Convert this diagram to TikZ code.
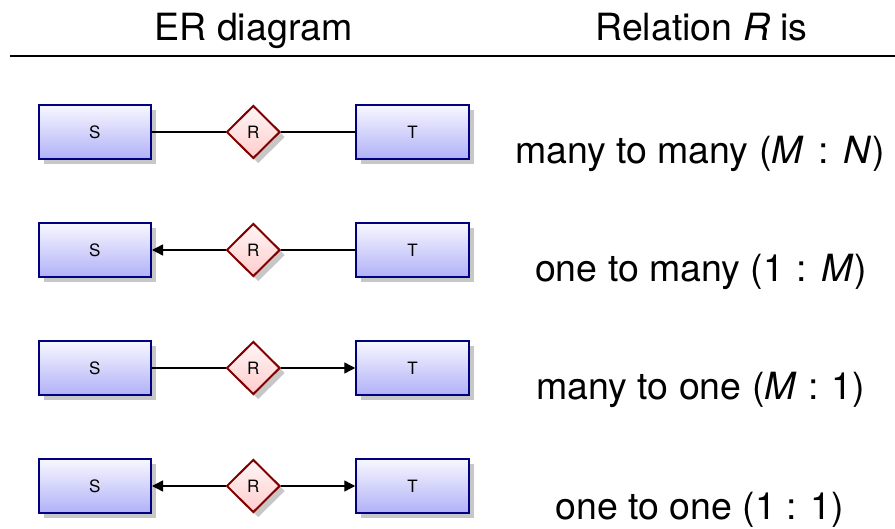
\documentclass[tikz,border=0pt]{standalone}
\usepackage{fontspec}
\setmainfont{TeX Gyre Heros}
\usetikzlibrary{shapes.geometric,shadows,arrows.meta}
\definecolor{entborder}{HTML}{000080}
\definecolor{enttop}{HTML}{F8F8FF}
\definecolor{entbot}{HTML}{B0B0F8}
\definecolor{relborder}{HTML}{800000}
\definecolor{reltop}{HTML}{FFF6F6}
\definecolor{relbot}{HTML}{FFCCCC}
\newcommand{\gapcolon}[1]{\hspace{#1}:\hspace{#1}}
\tikzset{
  entity/.style={rectangle, draw=entborder, line width=2pt, top color=enttop, bottom color=entbot,
    minimum width=112.5pt, minimum height=54.5pt, inner sep=0pt, font=\fontsize{17}{20}\selectfont,
    drop shadow={shadow xshift=5pt, shadow yshift=-5pt, fill=black!22, opacity=1}},
  rel/.style={diamond, draw=relborder, line width=2pt, top color=reltop, bottom color=relbot,
    minimum width=53.5pt, minimum height=53pt, inner sep=0pt, font=\fontsize{17}{20}\selectfont,
    drop shadow={shadow xshift=5pt, shadow yshift=-5pt, fill=black!22, opacity=1}},
  conn/.style={line width=1.4pt, black},
  tipend/.style={-{Triangle[length=11pt,width=11pt]}},
  bigtext/.style={font=\fontsize{37.5}{40}\selectfont, anchor=base, inner sep=0pt},
  rulestyle/.style={line width=1.5pt}
}
\begin{document}
\begin{tikzpicture}[x=1pt, y=-1pt]
\useasboundingbox (0,0) rectangle (895,529);
% header
\node[bigtext] (h1) at (253.5,41) {ER diagram};
\node[bigtext] (h2) at (701.5,41) {Relation \textit{R} is};
\coordinate (rl) at (10,56);
\coordinate (rr) at (895,56);
\draw[rulestyle] (rl) -- (rr);
% row 1
\node[entity] (s1) at (94.75,132) {S};
\node[rel] (r1) at (253.3,132) {R};
\node[entity] (t1) at (412.5,132) {T};
\draw[conn] (s1) -- (r1);
\draw[conn] (r1) -- (t1);
\node[bigtext] (l1) at (700,164) {many to many (\textit{M} \gapcolon{4pt} \textit{N}\hspace{1pt})};
% row 2
\node[entity] (s2) at (94.75,250) {S};
\node[rel] (r2) at (253.3,250) {R};
\node[entity] (t2) at (412.5,250) {T};
\draw[conn, tipend] (r2) -- (s2);
\draw[conn] (r2) -- (t2);
\node[bigtext] (l2) at (701,282) {one to many (1 \gapcolon{1.5pt} \textit{M})};
% row 3
\node[entity] (s3) at (94.75,368) {S};
\node[rel] (r3) at (253.3,368) {R};
\node[entity] (t3) at (412.5,368) {T};
\draw[conn] (s3) -- (r3);
\draw[conn, tipend] (r3) -- (t3);
\node[bigtext] (l3) at (700.5,400) {many to one (\textit{M} \gapcolon{1.5pt} 1)};
% row 4
\node[entity] (s4) at (94.75,486) {S};
\node[rel] (r4) at (253.3,486) {R};
\node[entity] (t4) at (412.5,486) {T};
\draw[conn, tipend] (r4) -- (s4);
\draw[conn, tipend] (r4) -- (t4);
\node[bigtext] (l4) at (700,519) {one to one (1 : 1)};
\end{tikzpicture}
\end{document}
